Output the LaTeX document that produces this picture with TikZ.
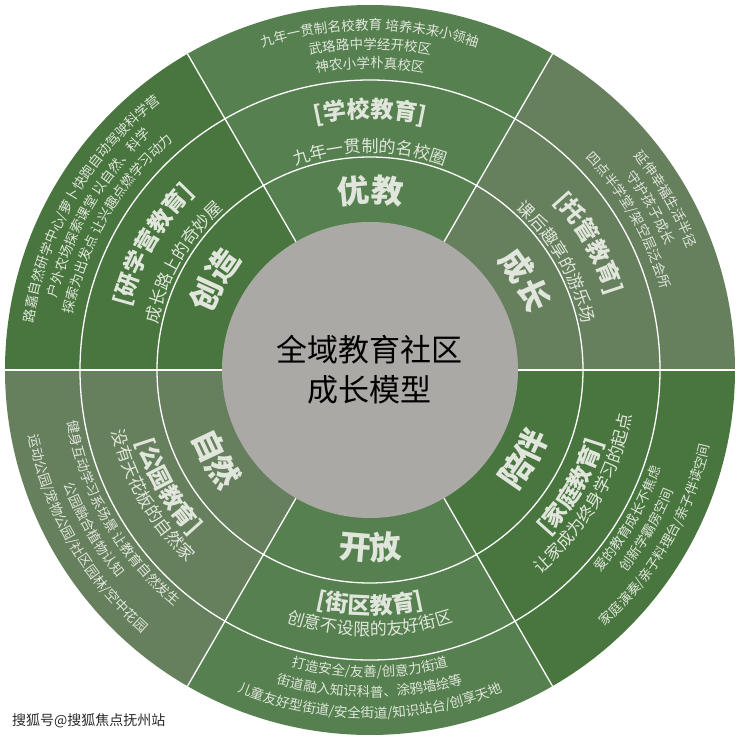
\documentclass[tikz,border=0pt]{standalone}
\usepackage{fontspec}
\newfontfamily\cjk{Noto Sans CJK SC}
\usetikzlibrary{decorations.text}
\definecolor{secA}{HTML}{56804F}
\definecolor{secB}{HTML}{667F5D}
\definecolor{secC}{HTML}{48763E}
\definecolor{txt}{HTML}{E0E6DB}
\definecolor{coregray}{HTML}{ABA9A6}
\definecolor{markgray}{HTML}{2A2A2A}
% top half: text read clockwise, tops outward
\newcommand\arctop[5]{%
  \path[decorate,decoration={text along path,text align=center,
    text={|\cjk#4\fontsize{#3}{#3}\selectfont\color{txt}|#5}}]
    (#1+29:#2pt) arc[start angle=#1+29, end angle=#1-29, radius=#2pt];}
% bottom half: text read counter-clockwise, tops inward
\newcommand\arcbot[5]{%
  \path[decorate,decoration={text along path,text align=center,
    text={|\cjk#4\fontsize{#3}{#3}\selectfont\color{txt}|#5}}]
    (#1-29:#2pt) arc[start angle=#1-29, end angle=#1+29, radius=#2pt];}
\tikzset{sepline/.style={draw=white,line width=1.3pt}}
\begin{document}
\begin{tikzpicture}
\useasboundingbox (-370pt,-369pt) rectangle (370pt,370pt);
\fill[white] (-370pt,-369pt) rectangle (370pt,370pt);
% sectors
\foreach \a/\c in {0/secB,60/secA,120/secC,180/secB,240/secA,300/secC}
  \fill[\c] (0,0) -- (\a:365pt) arc[start angle=\a, end angle=\a+60, radius=365pt] -- cycle;
% separators
\draw[sepline] (0,0) circle[radius=213pt];
\draw[sepline] (0,0) circle[radius=290pt];
\foreach \a in {0,60,...,300}
  \draw[sepline] (\a:148pt) -- (\a:365pt);
% core
\fill[coregray] (0,0) circle[radius=148pt];
\node[font=\cjk\fontsize{31}{40}\selectfont, align=center, text=black] (core) at (0,0) {全域教育社区\\成长模型};
% ---- top (90)
\arctop{90}{168}{32}{\bfseries}{优教}
\arctop{90}{252}{23}{\bfseries}{[学校教育]}
\arctop{90}{217.5}{17}{}{九年一贯制的名校圈}
\arctop{90}{340}{13.5}{}{九年一贯制名校教育 培养未来小领袖}
\arctop{90}{321}{13.5}{}{武珞路中学经开校区}
\arctop{90}{302}{13.5}{}{神农小学朴真校区}
% ---- top right (30)
\arctop{30}{168}{32}{\bfseries}{成长}
\arctop{30}{249}{23}{\bfseries}{[托管教育]}
\arctop{30}{217.5}{17}{}{课后趣享的游乐场}
\arctop{30}{340}{13.5}{}{延伸幸福生活半径}
\arctop{30}{321}{13.5}{}{守护孩子成长}
\arctop{30}{302}{13.5}{}{四点半学堂/架空层泛会所}
% ---- top left (150)
\arctop{150}{168}{32}{\bfseries}{创造}
\arctop{150}{249}{23}{\bfseries}{[研学营教育]}
\arctop{150}{217.5}{17}{}{成长路上的奇妙屋}
\arctop{150}{340}{13.5}{}{路嘉自然研学中心/萝卜快跑自动驾驶科学营}
\arctop{150}{321}{13.5}{}{户外农场探索课堂 以自然、科学}
\arctop{150}{302}{13.5}{}{探索为出发点 让兴趣点燃学习动力}
% ---- bottom (270)
\arcbot{270}{190}{32}{\bfseries}{开放}
\arcbot{270}{244}{23}{\bfseries}{[街区教育]}
\arcbot{270}{265.5}{17}{}{创意不设限的友好街区}
\arcbot{270}{307}{13.5}{}{打造安全/友善/创意力街道}
\arcbot{270}{327}{13.5}{}{街道融入知识科普、涂鸦墙绘等}
\arcbot{270}{348}{13.5}{}{儿童友好型街道/安全街道/知识站台/创享天地}
% ---- bottom left (210)
\arcbot{210}{190}{32}{\bfseries}{自然}
\arcbot{210}{244}{23}{\bfseries}{[公园教育]}
\arcbot{210}{265.5}{17}{}{没有天花板的自然家}
\arcbot{210}{307}{13.5}{}{健身互动学习系场景 让教育自然发生}
\arcbot{210}{327}{13.5}{}{公园融合植物认知}
\arcbot{210}{348}{13.5}{}{运动公园/宠物公园/社区园林/空中花园}
% ---- bottom right (330)
\arcbot{330}{190}{32}{\bfseries}{陪伴}
\arcbot{330}{244}{23}{\bfseries}{[家庭教育]}
\arcbot{330}{265.5}{17}{}{让家成为终身学习的起点}
\arcbot{330}{307}{13.5}{}{爱的教育成长不焦虑}
\arcbot{330}{327}{13.5}{}{创新学霸房空间}
\arcbot{330}{348}{13.5}{}{家庭演奏/亲子料理台/亲子伴读空间}
% watermark
\node[font=\cjk\fontsize{14}{16}\selectfont, text=markgray, anchor=west, inner sep=0pt] (mark) at (-358pt,-351pt) {搜狐号@搜狐焦点抚州站};
\end{tikzpicture}
\end{document}
